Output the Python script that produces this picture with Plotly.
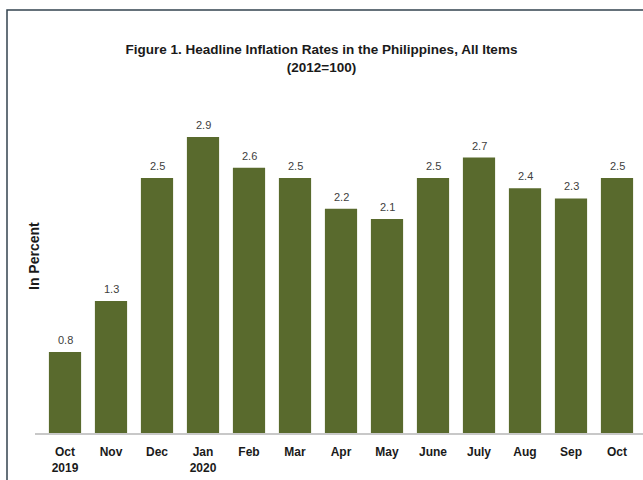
import plotly.graph_objects as go

categories = ["Oct<br>2019", "Nov", "Dec", "Jan<br>2020", "Feb", "Mar", "Apr", "May",
              "June", "July", "Aug", "Sep", "Oct"]
values = [0.8, 1.3, 2.5, 2.9, 2.6, 2.5, 2.2, 2.1, 2.5, 2.7, 2.4, 2.3, 2.5]
value_labels = [f"{v:.1f}" for v in values]

W, H = 643, 480
L, R, T, B = 42, 3, 60, 46
pw = W - L - R
ph = H - T - B

fig = go.Figure()
fig.add_trace(go.Bar(
    x=list(range(len(categories))), y=values,
    marker=dict(color="#596a2d", line=dict(width=0)),
    width=0.7,
    hoverinfo="skip",
))

for i, (v, t) in enumerate(zip(values, value_labels)):
    fig.add_annotation(x=i, y=v, text=t, showarrow=False, yanchor="bottom", yshift=4,
                       font=dict(family="Liberation Sans, Arial", size=11, color="#404040"))

fig.add_annotation(xref="paper", yref="paper", x=(34 - L) / pw, y=(T + ph - 256) / ph,
                   text="<b>In Percent</b>", textangle=-90, showarrow=False,
                   xanchor="center", yanchor="middle",
                   font=dict(family="Liberation Sans, Arial", size=14, color="#1a1a1a"))

# border frame (cropped at right/bottom)
fig.add_shape(type="rect", xref="paper", yref="paper",
              x0=(7 - L) / pw, x1=1.2, y0=-0.3, y1=(T + ph - 10) / ph,
              line=dict(color="#33434f", width=1.5), layer="below")
# baseline
fig.add_shape(type="line", xref="paper", yref="paper",
              x0=(35 - L) / pw, x1=1.05, y0=0, y1=0,
              line=dict(color="#c8c8c8", width=2))

fig.update_layout(
    width=W, height=H,
    margin=dict(l=L, r=R, t=T, b=B, pad=0),
    paper_bgcolor="white", plot_bgcolor="white",
    showlegend=False,
    title=dict(text="<b>Figure 1. Headline Inflation Rates in the Philippines, All Items<br>(2012=100)</b>",
               x=0.5, xanchor="center", y=1 - 54 / H, yanchor="middle", xref="container", yref="container",
               font=dict(family="Liberation Sans, Arial", size=13.5, color="#1a1a1a")),
    xaxis=dict(tickmode="array", tickvals=list(range(len(categories))),
               ticktext=[f"<b>{c}</b>" for c in categories],
               range=[-0.5, len(categories) - 0.5], showline=False, ticks="",
               showgrid=False, zeroline=False, ticklabelstandoff=9,
               tickfont=dict(family="Liberation Sans, Arial", size=12, color="#1a1a1a")),
    yaxis=dict(range=[0, ph / 102.4], showticklabels=False, showgrid=False,
               zeroline=False, showline=False, ticks=""),
)

fig.write_html("out.html", config={"displayModeBar": False},
               post_script="document.body.style.margin='0';document.body.style.overflow='hidden';")
